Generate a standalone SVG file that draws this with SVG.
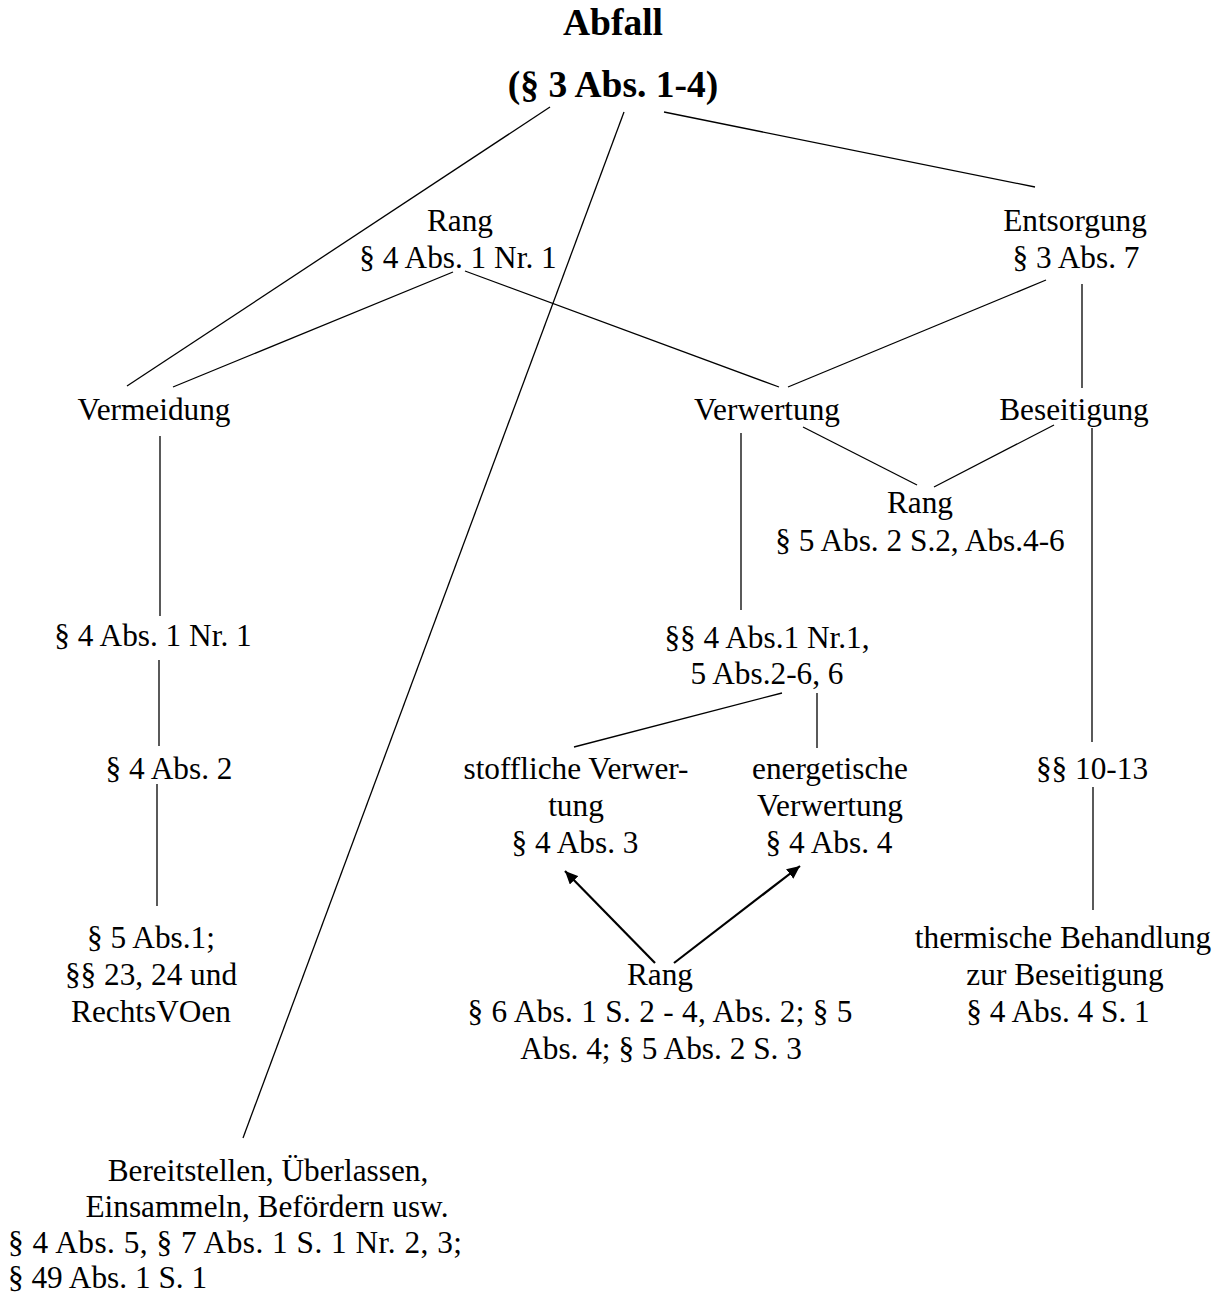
<svg xmlns="http://www.w3.org/2000/svg" width="1227" height="1295" viewBox="0 0 1227 1295">
<style>
text{font-family:"Liberation Serif","Times New Roman",serif;font-size:31.3px;fill:#000;text-anchor:middle}
.t{font-size:37.5px;font-weight:bold}
.l{text-anchor:start}
.c line{stroke:#000;stroke-width:1.3;fill:none}
.c .a{stroke-width:2.2}
</style>
<defs>
<marker id="ah" markerUnits="userSpaceOnUse" markerWidth="14" markerHeight="12" refX="13" refY="6" orient="auto">
<path d="M0,0 L13,6 L0,12 Z" fill="#000"/>
</marker>
</defs>
<rect width="1227" height="1295" fill="#fff"/>
<g id="connectors" class="c">
<line x1="550" y1="107" x2="127" y2="386"/>
<line x1="624" y1="112" x2="243" y2="1138"/>
<line x1="664" y1="112" x2="1035" y2="187"/>
<line x1="453" y1="272" x2="173" y2="387"/>
<line x1="465" y1="271" x2="779" y2="387"/>
<line x1="1046" y1="280" x2="788" y2="387"/>
<line x1="1082" y1="284" x2="1082" y2="388"/>
<line x1="160" y1="436" x2="160" y2="616"/>
<line x1="159" y1="660" x2="159" y2="746"/>
<line x1="157" y1="784" x2="157" y2="906"/>
<line x1="803" y1="427" x2="917" y2="485"/>
<line x1="1054" y1="425" x2="934" y2="487"/>
<line x1="741" y1="433" x2="741" y2="610"/>
<line x1="1092" y1="428" x2="1092" y2="742"/>
<line x1="782" y1="693" x2="574" y2="747"/>
<line x1="817" y1="693" x2="817" y2="748"/>
<line x1="1093" y1="787" x2="1093" y2="910"/>
<line class="a" x1="655" y1="963" x2="565" y2="871" marker-end="url(#ah)"/>
<line class="a" x1="674" y1="963" x2="800" y2="866" marker-end="url(#ah)"/>
</g>
<g id="abfall"><text class="t" x="613" y="35">Abfall</text><text class="t" x="613" y="97">(§ 3 Abs. 1-4)</text></g>
<g id="rang1"><text x="460" y="231">Rang</text><text x="458" y="268">§ 4 Abs. 1 Nr. 1</text></g>
<g id="entsorgung"><text x="1075" y="231">Entsorgung</text><text x="1076" y="268">§ 3 Abs. 7</text></g>
<g id="vermeidung"><text x="154" y="420">Vermeidung</text></g>
<g id="verwertung"><text x="767" y="420">Verwertung</text></g>
<g id="beseitigung"><text x="1074" y="420">Beseitigung</text></g>
<g id="rang2"><text x="920" y="513">Rang</text><text x="920" y="551">§ 5 Abs. 2 S.2, Abs.4-6</text></g>
<g id="v1"><text x="153" y="646">§ 4 Abs. 1 Nr. 1</text></g>
<g id="v2"><text x="169" y="779">§ 4 Abs. 2</text></g>
<g id="v3"><text x="151" y="948">§ 5 Abs.1;</text><text x="151" y="985">§§ 23, 24 und</text><text x="151" y="1022">RechtsVOen</text></g>
<g id="verw1"><text x="767" y="648">§§ 4 Abs.1 Nr.1,</text><text x="767" y="684">5 Abs.2-6, 6</text></g>
<g id="stofflich"><text x="576" y="779">stoffliche Verwer-</text><text x="576" y="816">tung</text><text x="575" y="853">§ 4 Abs. 3</text></g>
<g id="energetisch"><text x="830" y="779">energetische</text><text x="830" y="816">Verwertung</text><text x="829" y="853">§ 4 Abs. 4</text></g>
<g id="rang3"><text x="660" y="985">Rang</text><text x="660" y="1022" textLength="385" lengthAdjust="spacing">§ 6 Abs. 1 S. 2 - 4, Abs. 2; § 5</text><text x="661" y="1059">Abs. 4; § 5 Abs. 2 S. 3</text></g>
<g id="bes1"><text x="1092" y="779">§§ 10-13</text></g>
<g id="thermisch"><text x="1063" y="948">thermische Behandlung</text><text x="1065" y="985">zur Beseitigung</text><text x="1058" y="1022">§ 4 Abs. 4 S. 1</text></g>
<g id="bereitstellen"><text x="268" y="1181">Bereitstellen, Überlassen,</text><text x="267" y="1217">Einsammeln, Befördern usw.</text><text class="l" x="8" y="1253" textLength="454" lengthAdjust="spacing">§ 4 Abs. 5, § 7 Abs. 1 S. 1 Nr. 2, 3;</text><text class="l" x="8" y="1288">§ 49 Abs. 1 S. 1</text></g>
</svg>
